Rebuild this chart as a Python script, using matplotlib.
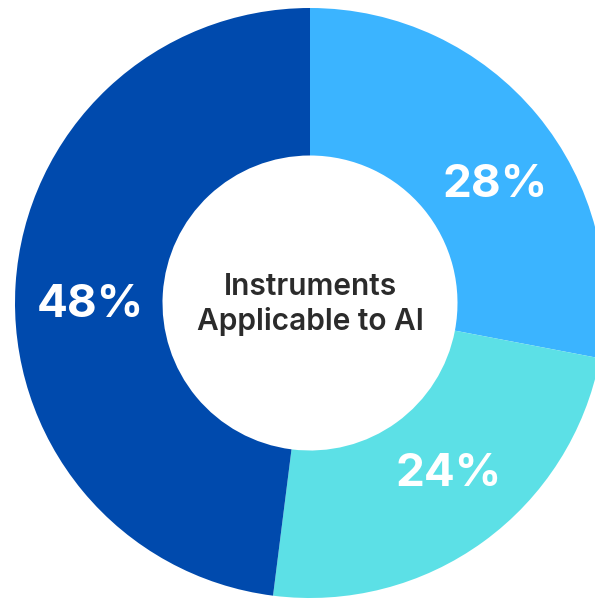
import numpy as np
import matplotlib
matplotlib.use('Agg')
from matplotlib import pyplot as plt

# share of instruments applicable to AI, clockwise from 12 o'clock
values = [28, 24, 48]
labels = ['28%', '24%', '48%']
colors = ['#3BB4FF', '#5CE0E6', '#004AAD']
center_title = 'Instruments\nApplicable to AI'

# small angular nudges for the percent labels (degrees, clockwise)
label_nudge = [7, -3, -4]

plt.rcParams['font.family'] = ['Inter', 'DejaVu Sans']

fig = plt.figure(figsize=(5.95, 5.99), dpi=100)
ax = fig.add_axes([0, 0, 1, 1])

wedges, _ = ax.pie(values, colors=colors, startangle=90, counterclock=False,
                   radius=1.0, wedgeprops=dict(width=0.5, linewidth=0))

# percent labels from the wedge midpoints
total = float(sum(values))
start = 0.0
for v, lab, nudge in zip(values, labels, label_nudge):
    mid = start + v / total * 360.0 / 2 + nudge
    ang = np.deg2rad(90 - mid)
    ax.text(0.745 * np.cos(ang), 0.745 * np.sin(ang), lab, ha='center', va='center',
            color='white', fontsize=33, fontweight='bold')
    start += v / total * 360.0

ax.text(0, -0.005, center_title, ha='center', va='center', fontsize=21.5,
        fontweight='semibold', color='#2b2b2b', linespacing=1.3)

# crop so the donut runs off the right and bottom edges like the reference
px = 295.0
ax.set_xlim(-310 / px, 285 / px)
ax.set_ylim(-(599 - 303) / px, 303 / px)
ax.set_aspect('auto')
ax.axis('off')

fig.savefig('out.png', dpi=100)
